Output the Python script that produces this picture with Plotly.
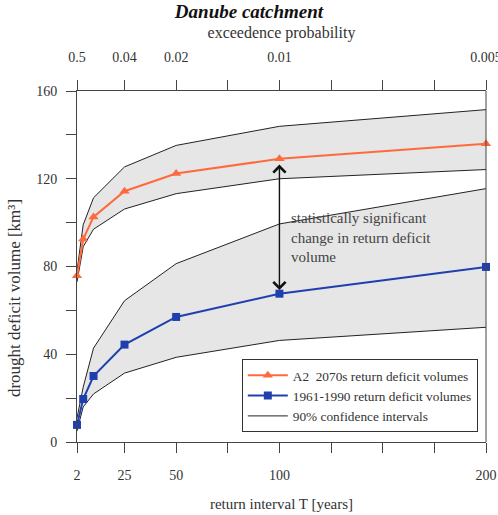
import plotly.graph_objects as go

# ---- data ----
T = [2, 5, 10, 25, 50, 100, 200]
a2_2070s = [75.8, 92.5, 102.6, 114.3, 122.4, 129.1, 135.9]
a2_upper = [78, 99, 111.3, 125.4, 135.2, 143.9, 151.5]
a2_lower = [73, 89, 97, 106.2, 113.2, 120, 124.2]
base_1961_1990 = [7.8, 19.6, 30.1, 44.4, 57.0, 67.6, 79.8]
base_upper = [11, 25, 42.8, 64.4, 81.3, 99.4, 115.5]
base_lower = [5, 16, 21.9, 31.4, 38.6, 46.3, 52.3]

x_tickvals = [2, 25, 50, 75, 100, 125, 150, 175, 200]
x_ticktext = ["2", "25", "50", "", "100", "", "", "", "200"]
top_ticktext = ["0.5", "0.04", "0.02", "", "0.01", "", "", "", "0.005"]
y_tickvals = [0, 20, 40, 60, 80, 100, 120, 140, 160]
y_ticktext = ["0", "", "40", "", "80", "", "120", "", "160"]

FONT = "Liberation Serif, Times New Roman, serif"
FILL = "#e6e6e6"
ORANGE = "#ff6a3d"
BLUE = "#1f3fae"

fig = go.Figure()

# confidence bands
fig.add_trace(go.Scatter(x=T, y=a2_lower, mode="lines", line=dict(color="#222", width=1),
                         showlegend=False, hoverinfo="skip"))
fig.add_trace(go.Scatter(x=T, y=a2_upper, mode="lines", line=dict(color="#222", width=1),
                         fill="tonexty", fillcolor=FILL, showlegend=False, hoverinfo="skip"))
fig.add_trace(go.Scatter(x=T, y=base_lower, mode="lines", line=dict(color="#222", width=1),
                         showlegend=False, hoverinfo="skip"))
fig.add_trace(go.Scatter(x=T, y=base_upper, mode="lines", line=dict(color="#222", width=1),
                         fill="tonexty", fillcolor=FILL, showlegend=False, hoverinfo="skip"))

# series
fig.add_trace(go.Scatter(x=T, y=a2_2070s, mode="lines+markers", name="A2  2070s return deficit volumes",
                         line=dict(color=ORANGE, width=2),
                         marker=dict(symbol="triangle-up", size=9, color=ORANGE),
                         cliponaxis=False, legendrank=1))
fig.add_trace(go.Scatter(x=T, y=base_1961_1990, mode="lines+markers", name="1961-1990 return deficit volumes",
                         line=dict(color=BLUE, width=2),
                         marker=dict(symbol="square", size=8, color=BLUE),
                         cliponaxis=False, legendrank=2))
# legend entry for confidence intervals
fig.add_trace(go.Scatter(x=[None], y=[None], mode="lines", line=dict(color="#222", width=1),
                         name="90% confidence intervals", legendrank=3))

# invisible trace on top axis
fig.add_trace(go.Scatter(x=[2, 200], y=[0, 0], xaxis="x2", mode="markers",
                         marker=dict(opacity=0), showlegend=False, hoverinfo="skip"))

# arrow
fig.add_annotation(x=100, y=126.5, ax=100, ay=68.6, xref="x", yref="y", axref="x", ayref="y",
                   text="", showarrow=True, arrowhead=4, arrowside="end+start",
                   arrowsize=1.7, arrowwidth=1.4, arrowcolor="#111")
fig.add_annotation(x=104.5, y=93, xref="x", yref="y", xanchor="left", yanchor="middle",
                   text="statistically significant<br>change in return deficit<br>volume",
                   showarrow=False, align="left", font=dict(family=FONT, size=15, color="#444"))
# y-axis title
fig.add_annotation(x=-0.154, y=0.41, xref="paper", yref="paper", xanchor="center", yanchor="middle",
                   text="drought deficit volume [km³]", textangle=-90, showarrow=False,
                   font=dict(family=FONT, size=17, color="#333"))

axis_common = dict(showline=True, linecolor="#444", linewidth=1, ticks="outside", ticklen=10,
                   tickcolor="#444", showgrid=False, zeroline=False, automargin=False,
                   ticklabeloverflow="allow",
                   tickfont=dict(family=FONT, size=14, color="#333"))

fig.update_layout(
    width=498, height=515,
    margin=dict(l=77, r=12, t=91, b=73, autoexpand=False),
    plot_bgcolor="white", paper_bgcolor="white",
    font=dict(family=FONT, size=14, color="#333"),
    title=dict(text="<b><i>Danube catchment</i></b>", x=249 / 498, xanchor="center",
               y=1 - 11 / 515, yanchor="middle", yref="container",
               font=dict(family=FONT, size=19, color="#111")),
    xaxis=dict(range=[2, 200], tickmode="array", tickvals=x_tickvals, ticktext=x_ticktext,
               ticklabelstandoff=10,
               title=dict(text="return interval T [years]", font=dict(family=FONT, size=15, color="#333"),
                          standoff=16),
               **axis_common),
    xaxis2=dict(range=[2, 200], overlaying="x", side="top", tickmode="array", tickvals=x_tickvals,
                ticktext=top_ticktext, ticklabelstandoff=12,
                title=dict(text="exceedence probability", font=dict(family=FONT, size=16, color="#333"),
                           standoff=7),
                **axis_common),
    yaxis=dict(range=[0, 160], tickmode="array", tickvals=y_tickvals, ticktext=y_ticktext,
               ticklabelstandoff=6,
               **axis_common),
    legend=dict(x=0.98, y=0.028, xanchor="right", yanchor="bottom", bordercolor="#333", borderwidth=1,
                bgcolor="white", font=dict(family=FONT, size=13.3, color="#333"),
                traceorder="normal", tracegroupgap=0, entrywidth=200, entrywidthmode="pixels",
                itemwidth=40),
    showlegend=True,
)

# right spine
fig.add_shape(type="line", xref="paper", yref="paper", x0=1, x1=1, y0=0, y1=1,
              line=dict(color="#444", width=1))

fig.write_html("out.html")
